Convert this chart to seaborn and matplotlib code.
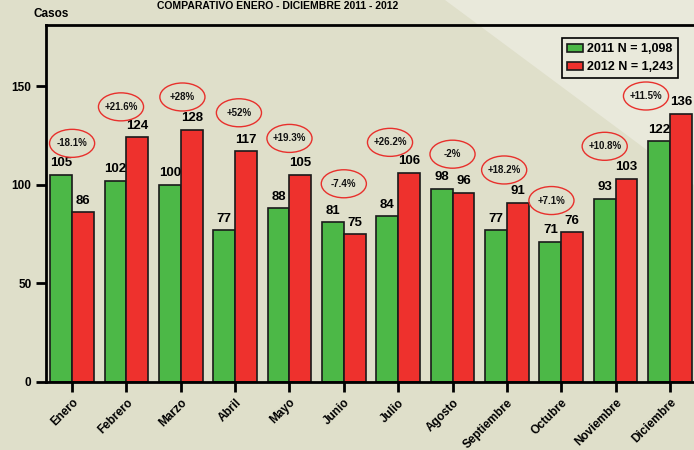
import matplotlib
matplotlib.use("Agg")
import matplotlib.pyplot as plt
from matplotlib.patches import Ellipse, Polygon
import seaborn as sns
import pandas as pd

# data
meses = ["Enero", "Febrero", "Marzo", "Abril", "Mayo", "Junio", "Julio",
         "Agosto", "Septiembre", "Octubre", "Noviembre", "Diciembre"]
casos_2011 = [105, 102, 100, 77, 88, 81, 84, 98, 77, 71, 93, 122]
casos_2012 = [86, 124, 128, 117, 105, 75, 106, 96, 91, 76, 103, 136]
variacion = ["-18.1%", "+21.6%", "+28%", "+52%", "+19.3%", "-7.4%", "+26.2%",
             "-2%", "+18.2%", "+7.1%", "+10.8%", "+11.5%"]
etiqueta_2011 = "2011 N = 1,098"
etiqueta_2012 = "2012 N = 1,243"

# where the red ellipses sit relative to the taller bar of each month
elip_dx = [0, -0.1, 0.03, 0.07, 0, 0, -0.15, 0, -0.05, -0.18, -0.2, -0.44]
elip_dy = [16, 15.5, 16.5, 19.5, 18.5, 19.5, 15.5, 17.5, 16.5, 16, 16.5, 9]

df = pd.DataFrame({
    "mes": meses * 2,
    "casos": casos_2011 + casos_2012,
    "anio": [etiqueta_2011] * 12 + [etiqueta_2012] * 12,
})

sns.set_style("white")
plt.rcParams["font.family"] = ["Liberation Sans", "DejaVu Sans"]
plt.rcParams["font.weight"] = "bold"
plt.rcParams["text.color"] = "black"

bg = "#dfdfca"
fig = plt.figure(figsize=(6.94, 4.5), dpi=100, facecolor=bg)

# background axes with the lighter diagonal band in the upper right
bgax = fig.add_axes([0, 0, 1, 1], zorder=-1)
bgax.set_xlim(0, 694)
bgax.set_ylim(450, 0)
bgax.axis("off")
bgax.add_patch(Polygon([(445, 0), (694, 0), (694, 185)], closed=True,
                       facecolor="#e9e9db", edgecolor="none"))

ax = fig.add_axes([46 / 694, 68 / 450, 650 / 694, 357 / 450])
ax.set_facecolor("none")

sns.barplot(data=df, x="mes", y="casos", hue="anio", ax=ax,
            palette=["#4cb847", "#ee312d"], width=0.8,
            edgecolor="#1a1a1a", linewidth=1.2, saturation=1)

ax.set_ylim(0, 181)
ax.set_xlim(-0.48, 11.48)
ax.set_yticks([0, 50, 100, 150])
ax.set_xlabel("")
ax.set_ylabel("")
for s in ax.spines.values():
    s.set_linewidth(2)
    s.set_color("black")
ax.tick_params(axis="both", direction="out", length=7, width=2,
               labelsize=8.5, colors="black", left=True, bottom=True)
plt.setp(ax.get_xticklabels(), rotation=45, ha="right",
         rotation_mode="anchor", fontweight="bold", color="black")
plt.setp(ax.get_yticklabels(), fontweight="bold", color="black")

# value labels on the bars
for cont in ax.containers:
    ax.bar_label(cont, padding=4, fontsize=9.5, fontweight="bold",
                 color="black")

# percentage change inside red ellipses
for i, txt in enumerate(variacion):
    cx = i + elip_dx[i]
    cy = max(casos_2011[i], casos_2012[i]) + elip_dy[i]
    ax.add_patch(Ellipse((cx, cy), 0.83, 14.2, facecolor="none",
                         edgecolor="#e8302c", linewidth=1.0, zorder=4))
    ax.text(cx, cy, txt, ha="center", va="center", fontsize=7,
            fontweight="bold", color="#111111", zorder=5)

leg = ax.legend(loc="upper right", bbox_to_anchor=(632 / 650, 1 - 13 / 357),
                fontsize=9, frameon=True, fancybox=False, handlelength=1.3,
                handleheight=0.6, handletextpad=0.3, borderpad=0.4,
                labelspacing=0.5, borderaxespad=0)
leg.get_frame().set_edgecolor("black")
leg.get_frame().set_linewidth(1.2)
leg.get_frame().set_facecolor("#e9e9db")
leg.get_frame().set_alpha(1)
for t in leg.get_texts():
    t.set_fontweight("bold")
    t.set_color("black")

fig.text(33 / 694, 1 - 14 / 450, "Casos", fontsize=8.5, fontweight="bold",
         va="center", ha="left")
fig.text(278 / 694, 1 - 6 / 450, "COMPARATIVO ENERO - DICIEMBRE 2011 - 2012",
         fontsize=7.5, fontweight="bold", ha="center", va="center")

fig.savefig("out.png", dpi=100, facecolor=bg)
